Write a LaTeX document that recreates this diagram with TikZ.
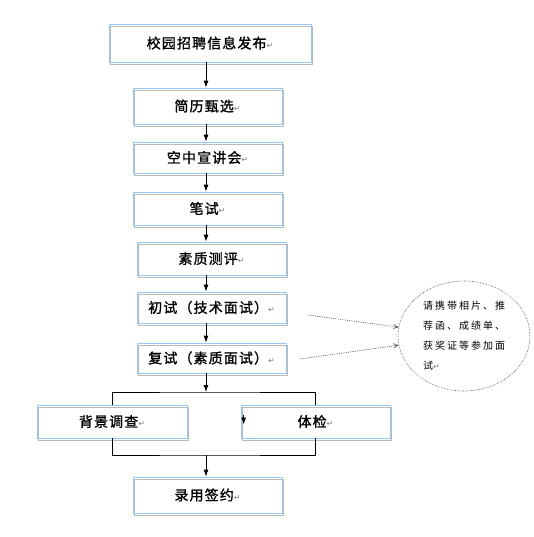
\documentclass[tikz,border=0pt]{standalone}
\usepackage{fontspec}
\usetikzlibrary{shapes,shadows,arrows.meta}
\newfontfamily\cjk[LetterSpace=8,FakeBold=1.2]{Noto Sans CJK SC}
\newfontfamily\cjknote[LetterSpace=20]{Noto Sans CJK SC}
\newfontfamily\dejavu{DejaVu Sans}
\definecolor{boxblue}{RGB}{150,200,245}
\definecolor{boxgray}{RGB}{185,185,185}
\newcommand\retmark{{\dejavu\fontsize{8}{8}\selectfont\color{gray}↵}}

\begin{document}
\begin{tikzpicture}[x=1pt,y=-1pt]
\tikzstyle{every path}=[line width=0.8pt]
\tikzstyle{flowbox}=[draw=boxblue,line width=0.7pt,inner sep=0pt,
 font=\cjk\fontsize{14}{14}\selectfont,
 drop shadow={shadow xshift=1.5pt,shadow yshift=-2.5pt,fill=none,draw=boxgray,opacity=1}]
\tikzstyle{flowarrow}=[-{Latex[length=7pt,width=5pt]}]
\tikzstyle{notecloud}=[ellipse,draw=black!70,densely dotted,line width=0.6pt,
 minimum width=132pt,minimum height=110pt,inner sep=0pt,align=left,
 font=\cjknote\fontsize{10}{20}\selectfont]
\tikzstyle{notearrow}=[draw=black!75,densely dotted,line width=0.6pt,-{To[length=5pt,width=5pt]}]
\useasboundingbox (0,0) rectangle (533,537);
\coordinate (axis) at (206,0);
\node[flowbox,minimum width=202pt,minimum height=38pt] (b1) at (210,43) {校园招聘信息发布\retmark};
\node[flowbox,minimum width=149pt,minimum height=36pt] (b2) at (207.5,106) {简历甄选\retmark};
\node[flowbox,minimum width=149pt,minimum height=31pt] (b3) at (207.5,157.5) {空中宣讲会\retmark};
\node[flowbox,minimum width=149pt,minimum height=33pt] (b4) at (207.5,208.5) {笔试\retmark};
\node[flowbox,minimum width=149pt,minimum height=33pt] (b5) at (211.5,258.5) {素质测评\retmark};
\node[flowbox,minimum width=149pt,minimum height=31pt] (b6) at (211.5,307.5) {初试（技术面试）\retmark};
\node[flowbox,minimum width=149pt,minimum height=30pt] (b7) at (211.5,358) {复试（素质面试）\retmark};
\node[flowbox,minimum width=150pt,minimum height=33pt] (bg) at (112,421.5) {背景调查\retmark};
\node[flowbox,minimum width=149pt,minimum height=33pt] (tj) at (315.5,421.5) {体检\retmark};
\node[flowbox,minimum width=149pt,minimum height=36pt] (sign) at (207.5,495) {录用签约\retmark};
\node[notecloud] (note) at (464,336) {请携带相片、推\\荐函、成绩单、\\获奖证等参加面\\试\retmark};
\foreach \a/\b in {b1/b2,b2/b3,b3/b4,b4/b5,b5/b6,b6/b7}
 \draw[flowarrow] (\a.south -| axis) -- (\b.north -| axis);
\coordinate (split) at (206,392);
\coordinate (join) at (206,455);
\draw[flowarrow] (b7.south -| axis) -- (split);
\draw (bg.north) |- (split) -| (tj.north);
\draw (bg.south) |- (join) -| (tj.south);
\draw[flowarrow] (join) -- (sign.north -| axis);
\draw[flowarrow] (tj.west) ++(3,-7) -- ++(0,10);
\coordinate (c1) at (308,315);
\coordinate (c2) at (300,359);
\draw[notearrow] (c1) -- (note);
\draw[notearrow] (c2) -- (note);
\end{tikzpicture}
\end{document}
